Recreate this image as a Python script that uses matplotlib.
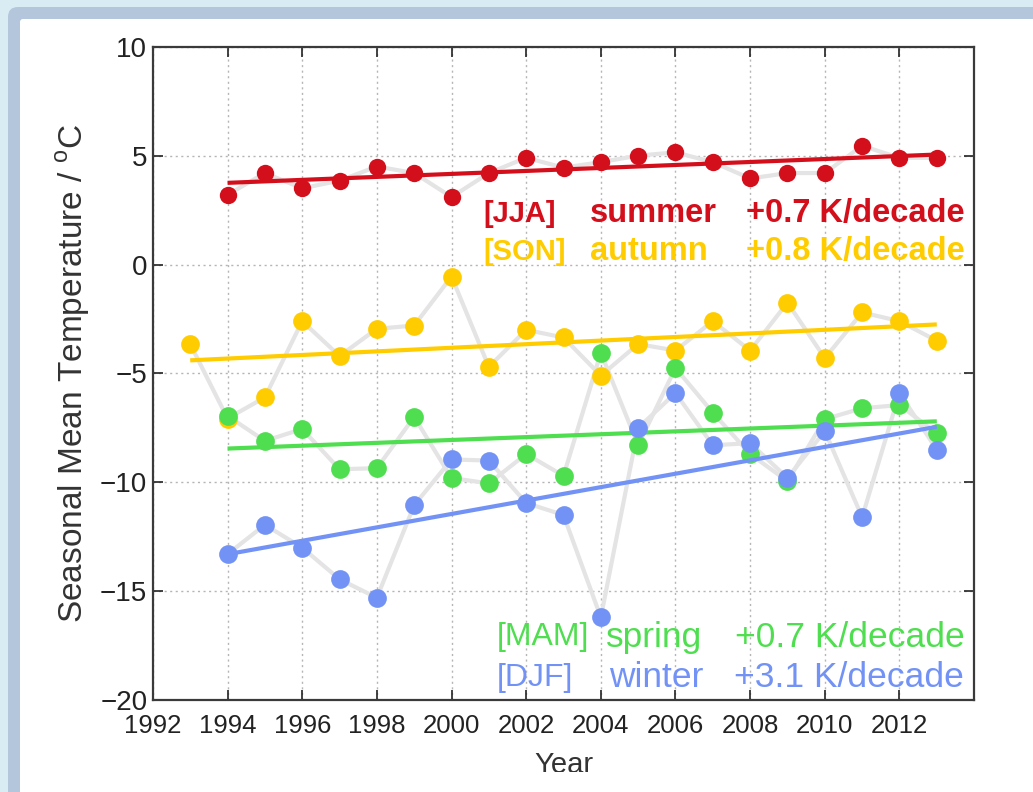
"""Seasonal mean temperature 1993-2013 with linear trends."""

import matplotlib

matplotlib.use("Agg")
import matplotlib.pyplot as plt
from matplotlib.patches import FancyBboxPatch, Rectangle

# --- data ------------------------------------------------------------------
years_son = list(range(1993, 2014))
years = list(range(1994, 2014))

jja = [3.2, 4.2, 3.5, 3.85, 4.5, 4.2, 3.1, 4.2, 4.9, 4.45,
       4.7, 5.0, 5.15, 4.7, 3.95, 4.2, 4.2, 5.45, 4.9, 4.9]
son = [-3.65, -7.07, -6.1, -2.6, -4.2, -2.95, -2.8, -0.55, -4.7, -3.0, -3.35,
       -5.1, -3.65, -3.95, -2.6, -3.95, -1.75, -4.3, -2.2, -2.6, -3.5]
mam = [-6.95, -8.1, -7.55, -9.4, -9.35, -7.0, -9.8, -10.05, -8.7, -9.7,
       -4.05, -8.3, -4.75, -6.8, -8.7, -9.95, -7.1, -6.6, -6.45, -7.75]
djf = [-13.3, -11.95, -13.0, -14.45, -15.3, -11.05, -8.95, -9.0, -10.95, -11.5,
       -16.2, -7.5, -5.9, -8.3, -8.2, -9.8, -7.65, -11.6, -5.9, -8.5]

# trend line end points (first year, last year)
trend_years = {"JJA": (1994, 2013), "SON": (1993, 2013), "MAM": (1994, 2013), "DJF": (1994, 2013)}
trend_values = {"JJA": (3.75, 5.05), "SON": (-4.4, -2.75), "MAM": (-8.45, -7.2), "DJF": (-13.3, -7.45)}

codes = ["[JJA]", "[SON]", "[MAM]", "[DJF]"]
names = ["summer", "autumn", "spring", "winter"]
trends = ["+0.7 K/decade", "+0.8 K/decade", "+0.7 K/decade", "+3.1 K/decade"]

x_ticks = list(range(1992, 2013, 2))
y_ticks = [-20, -15, -10, -5, 0, 5, 10]

RED = "#d40f1c"
YELLOW = "#ffcc00"
GREEN = "#4fde4f"
BLUE = "#7293f5"
GREY_LINE = "#e4e4e4"

plt.rcParams["font.family"] = ["Liberation Sans", "DejaVu Sans"]

fig = plt.figure(figsize=(10.33, 7.92), dpi=100)
fig.patch.set_facecolor("#d9ebf3")

# slide-like frame: blue border with rounded corner, white page inside
fig.add_artist(FancyBboxPatch((0.08, -0.2), 11.0, 8.05, boxstyle="round,pad=0,rounding_size=0.1",
                              transform=fig.dpi_scale_trans, facecolor="#b3c6dc", edgecolor="none", zorder=-5))
fig.add_artist(FancyBboxPatch((0.20, -0.2), 11.0, 7.93, boxstyle="round,pad=0,rounding_size=0.03",
                              transform=fig.dpi_scale_trans, facecolor="white", edgecolor="none", zorder=-4))

ax = fig.add_axes([0.148, 0.116, 0.795, 0.825])
ax.set_facecolor("white")

series = [
    ("JJA", years, jja, RED, 12.5),
    ("SON", years_son, son, YELLOW, 13.5),
    ("MAM", years, mam, GREEN, 13.5),
    ("DJF", years, djf, BLUE, 13.5),
]

for key, xs, ys, color, size in series:
    ax.plot(xs, ys, color=GREY_LINE, lw=3, zorder=2, solid_joinstyle="round")

for i, (key, xs, ys, color, size) in enumerate(series):
    ax.plot(xs, ys, "o", color=color, markersize=size, markeredgewidth=0, zorder=4 + i)
    ax.plot(trend_years[key], trend_values[key], color=color, lw=3, zorder=4 + i, solid_capstyle="butt")

ax.set_xlim(1992, 2014)
ax.set_ylim(-20, 10)
ax.set_xticks(x_ticks)
ax.set_yticks(y_ticks)
ax.set_yticklabels([str(v).replace("-", "\u2212") for v in y_ticks])
ax.grid(True, linestyle=(0, (1.5, 2.5)), color="#b5b5b5", lw=1)
ax.tick_params(direction="in", length=7, width=1.2, top=True, right=True,
               colors="#222222")
ax.tick_params(axis="x", labelsize=18.5, pad=10)
ax.tick_params(axis="y", labelsize=20, pad=4)
for spine in ax.spines.values():
    spine.set_color("#3a3a3a")
    spine.set_linewidth(1.6)

ax.set_ylabel("Seasonal Mean Temperature / $^\\mathregular{o}$C", fontsize=24, color="#333333", labelpad=6)
ax.set_xlabel("Year", fontsize=21, color="#333333", labelpad=9)

# season annotations: code, name, trend in three columns
text_colors = [RED, YELLOW, GREEN, BLUE]
rows_y = [0.744, 0.686, 0.0965, 0.034]
code_x = [0.403, 0.403, 0.419, 0.419]
name_x = [0.532, 0.532, 0.552, 0.556]
weights = ["bold", "bold", "normal", "normal"]
code_sizes = [21, 21, 23, 23]
text_sizes = [23.5, 23.5, 25.5, 25.5]
for i in range(4):
    kw = dict(transform=ax.transAxes, color=text_colors[i],
              fontweight=weights[i], va="center", zorder=10)
    ax.text(code_x[i], rows_y[i], codes[i], ha="left", fontsize=code_sizes[i], **kw)
    ax.text(name_x[i], rows_y[i], names[i], ha="left", fontsize=text_sizes[i], **kw)
    ax.text(0.988, rows_y[i], trends[i], ha="right", fontsize=text_sizes[i], **kw)

# the source image is clipped just under the axis label
fig.add_artist(Rectangle((0.20, 0), 10.5, 0.2, transform=fig.dpi_scale_trans,
                         facecolor="white", edgecolor="none", zorder=20))

fig.savefig("out.png", dpi=100, facecolor=fig.get_facecolor())
plt.close(fig)
